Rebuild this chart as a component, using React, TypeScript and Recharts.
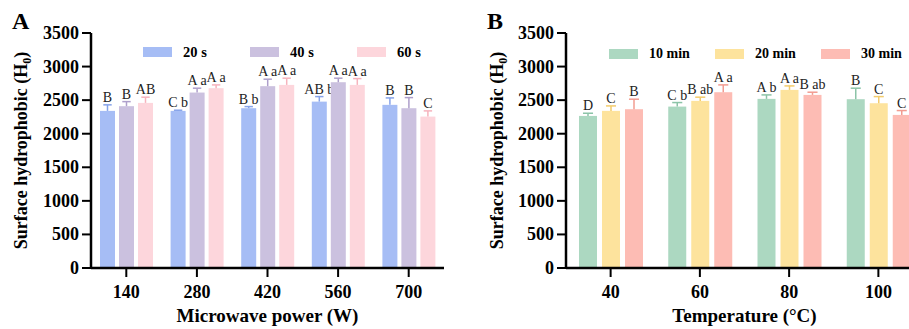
import React from 'react';
import { BarChart, Bar, XAxis, YAxis, Label } from 'recharts';

// ---------- Data: panel A (microwave power) ----------
const powerCategories = ['140', '280', '420', '560', '700'];
const s20Values = [2340, 2340, 2380, 2478, 2430];
const s20Errors = [90, 10, 24, 75, 103];
const s20Letters = ['B', 'C b', 'B b', 'AB b', 'B'];
const s40Values = [2410, 2613, 2708, 2767, 2380];
const s40Errors = [68, 65, 104, 60, 158];
const s40Letters = ['B', 'A a', 'A a', 'A a', 'B'];
const s60Values = [2459, 2678, 2727, 2727, 2255];
const s60Errors = [85, 49, 100, 94, 85];
const s60Letters = ['AB', 'A a', 'A a', 'A a', 'C'];

// ---------- Data: panel B (temperature) ----------
const tempCategories = ['40', '60', '80', '100'];
const m10Values = [2265, 2404, 2519, 2514];
const m10Errors = [40, 60, 59, 164];
const m10Letters = ['D', 'C b', 'A b', 'B'];
const m20Values = [2340, 2489, 2653, 2454];
const m20Errors = [74, 55, 59, 99];
const m20Letters = ['C', 'B ab', 'A a', 'C'];
const m30Values = [2365, 2618, 2578, 2280];
const m30Errors = [149, 109, 40, 65];
const m30Letters = ['B', 'A a', 'B ab', 'C'];

const yTicks = [0, 500, 1000, 1500, 2000, 2500, 3000, 3500];

const FONT = '"Liberation Serif", "Times New Roman", serif';

type Series = { key: string; name: string; fill: string; err: string; values: number[]; errors: number[]; letters: string[] };

const seriesA: Series[] = [
  { key: 's20', name: '20 s', fill: '#a6bdf5', err: '#86a3ea', values: s20Values, errors: s20Errors, letters: s20Letters },
  { key: 's40', name: '40 s', fill: '#cbc1df', err: '#ae9fcb', values: s40Values, errors: s40Errors, letters: s40Letters },
  { key: 's60', name: '60 s', fill: '#fdd6dc', err: '#f6b3bd', values: s60Values, errors: s60Errors, letters: s60Letters },
];

const seriesB: Series[] = [
  { key: 'm10', name: '10 min', fill: '#acd8c1', err: '#8cc4a8', values: m10Values, errors: m10Errors, letters: m10Letters },
  { key: 'm20', name: '20 min', fill: '#fde39d', err: '#f3cc6c', values: m20Values, errors: m20Errors, letters: m20Letters },
  { key: 'm30', name: '30 min', fill: '#fdbcb4', err: '#f29c91', values: m30Values, errors: m30Errors, letters: m30Letters },
];

function buildRows(cats: string[], series: Series[]) {
  return cats.map((c, i) => {
    const row: Record<string, any> = { cat: c };
    series.forEach((s) => {
      row[s.key] = s.values[i];
      row[s.key + '_err'] = s.errors[i];
      row[s.key + '_lab'] = s.letters[i];
    });
    return row;
  });
}

const rowsA = buildRows(powerCategories, seriesA);
const rowsB = buildRows(tempCategories, seriesB);

function makeShape(s: Series) {
  return (props: any) => {
    const { x, y, width, height, payload } = props;
    const v = payload[s.key];
    const e = payload[s.key + '_err'];
    const lab = payload[s.key + '_lab'];
    const k = v ? height / v : 0;
    const top = y - e * k;
    const cx = x + width / 2;
    const cap = width * 0.28;
    return (
      <g>
        <rect x={x} y={y} width={width} height={height} fill={s.fill} />
        <line x1={cx} y1={y} x2={cx} y2={top} stroke={s.err} strokeWidth={1.5} />
        <line x1={cx - cap} y1={top} x2={cx + cap} y2={top} stroke={s.err} strokeWidth={1.5} />
        <text x={cx} y={top - 3} textAnchor="middle" fontFamily={FONT} fontSize={14} fill="#222" style={{ fontFamily: FONT }}>
          {lab}
        </text>
      </g>
    );
  };
}

function AxisTick(anchor: 'middle' | 'end', dy: number) {
  return (props: any) => {
    const { x, y, payload } = props;
    return (
      <text
        x={x}
        y={y}
        dy={dy}
        textAnchor={anchor}
        fontFamily={FONT}
        fontWeight="bold"
        fontSize={18}
        fill="#000"
        style={{ fontFamily: FONT }}
      >
        {payload.value}
      </text>
    );
  };
}

const axisLine = { stroke: '#000', strokeWidth: 2.5 };
const tickLine = { stroke: '#000', strokeWidth: 2 };

function YTitle(baselineX: number) {
  return (props: any) => {
    const vb = props.viewBox;
    const cy = vb.y + vb.height / 2;
    return (
      <text
        x={baselineX}
        y={cy}
        transform={`rotate(-90, ${baselineX}, ${cy})`}
        textAnchor="middle"
        fontFamily={FONT}
        fontWeight="bold"
        fontSize={18}
        fill="#000"
        style={{ fontFamily: FONT }}
      >
        Surface hydrophobic (H
        <tspan dy={4} fontSize={12}>0</tspan>
        <tspan dy={-4}>)</tspan>
      </text>
    );
  };
}

function XTitle(text: string) {
  return (props: any) => {
    const vb = props.viewBox;
    const cx = vb.x + vb.width / 2;
    return (
      <text
        x={cx}
        y={vb.y + vb.height - 7}
        textAnchor="middle"
        fontFamily={FONT}
        fontWeight="bold"
        fontSize={19}
        fill="#000"
        style={{ fontFamily: FONT }}
      >
        {text}
      </text>
    );
  };
}

function Panel(props: {
  rows: any[];
  series: Series[];
  width: number;
  yAxisWidth: number;
  marginRight: number;
  barSize: number;
  barGap: number;
  xTitle: string;
  yTitleX: number;
}) {
  const { rows, series, width, yAxisWidth, marginRight, barSize, barGap, xTitle, yTitleX } = props;
  return (
    <BarChart
      width={width}
      height={329}
      data={rows}
      margin={{ top: 33, right: marginRight, bottom: 0, left: 0 }}
      barSize={barSize}
      barGap={barGap}
    >
      <XAxis
        dataKey="cat"
        height={61}
        tick={AxisTick('middle', 19)}
        tickSize={9}
        tickMargin={2}
        axisLine={axisLine}
        tickLine={tickLine}
        interval={0}
      >
        <Label content={XTitle(xTitle)} />
      </XAxis>
      <YAxis
        width={yAxisWidth}
        domain={[0, 3500]}
        ticks={yTicks}
        interval={0}
        tick={AxisTick('end', 6)}
        tickSize={9}
        tickMargin={3}
        axisLine={axisLine}
        tickLine={tickLine}
      >
        <Label content={YTitle(yTitleX)} />
      </YAxis>
      {series.map((s) => (
        <Bar key={s.key} dataKey={s.key} name={s.name} fill={s.fill} isAnimationActive={false} shape={makeShape(s)} />
      ))}
    </BarChart>
  );
}

function LegendRow(props: { series: Series[]; left: number; top: number; itemWidth: number; fontSize: number }) {
  const { series, left, top, itemWidth, fontSize } = props;
  return (
    <div style={{ position: 'absolute', left, top, display: 'flex', alignItems: 'center', whiteSpace: 'nowrap' }}>
      {series.map((s) => (
        <div key={s.key} style={{ width: itemWidth, display: 'flex', alignItems: 'center' }}>
          <span style={{ display: 'inline-block', width: 29, height: 10, background: s.fill, marginRight: 11 }} />
          <span style={{ fontFamily: FONT, fontWeight: 'bold', fontSize, color: '#000', lineHeight: '14px' }}>{s.name}</span>
        </div>
      ))}
    </div>
  );
}

export default function App() {
  return (
    <div
      style={{
        position: 'absolute',
        left: 0,
        top: 0,
        width: 909,
        height: 329,
        overflow: 'hidden',
        background: '#fff',
        fontFamily: FONT,
      }}
    >
      <div style={{ position: 'absolute', left: 0, top: 0 }}>
        <Panel
          rows={rowsA}
          series={seriesA}
          width={455}
          yAxisWidth={91}
          marginRight={11}
          barSize={15}
          barGap={4}
          xTitle="Microwave power (W)"
          yTitleX={27}
        />
      </div>
      <div style={{ position: 'absolute', left: 455, top: 0 }}>
        <Panel
          rows={rowsB}
          series={seriesB}
          width={480}
          yAxisWidth={111}
          marginRight={12}
          barSize={18}
          barGap={5}
          xTitle="Temperature (°C)"
          yTitleX={48}
        />
      </div>
      <LegendRow series={seriesA} left={143} top={45} itemWidth={107} fontSize={14.5} />
      <LegendRow series={seriesB} left={609} top={47} itemWidth={106} fontSize={14} />
      <div style={{ position: 'absolute', left: 12, top: 9, fontFamily: FONT, fontWeight: 'bold', fontSize: 24, lineHeight: '24px' }}>A</div>
      <div style={{ position: 'absolute', left: 487, top: 9, fontFamily: FONT, fontWeight: 'bold', fontSize: 24, lineHeight: '24px' }}>B</div>
    </div>
  );
}
